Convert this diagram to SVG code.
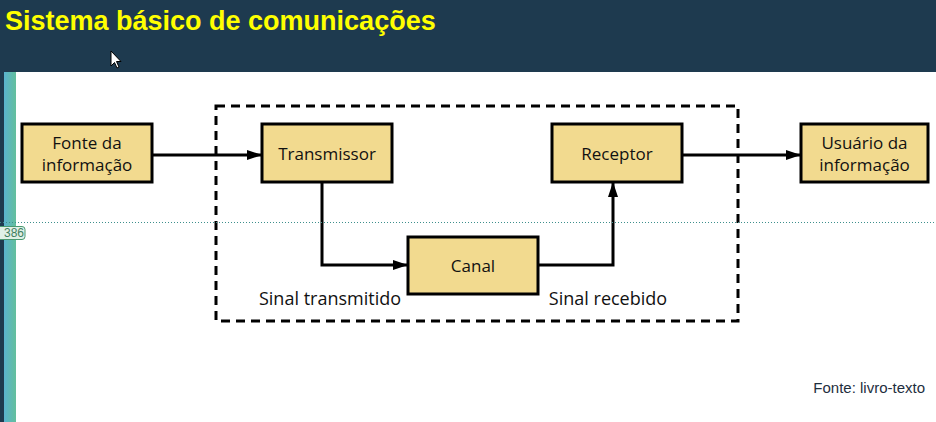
<svg xmlns="http://www.w3.org/2000/svg" width="936" height="422" viewBox="0 0 936 422">
<defs>
<linearGradient id="bar" x1="0" y1="0" x2="1" y2="0">
<stop offset="0" stop-color="#5ab3cf"/>
<stop offset="1" stop-color="#63bf9c"/>
</linearGradient>
<marker id="ah" viewBox="0 0 15 10" refX="15" refY="5" markerWidth="15" markerHeight="10" markerUnits="userSpaceOnUse" orient="auto">
<path d="M0,0 L15,5 L0,10 Z" fill="#000"/>
</marker>
<style>
.box{fill:#f2da8f;stroke:#000;stroke-width:3}
.lbl{font-family:"Open Sans","Noto Sans","DejaVu Sans",sans-serif;font-size:17px;fill:#111;text-anchor:middle}
.sig{font-family:"Open Sans","Noto Sans","DejaVu Sans",sans-serif;font-size:18px;fill:#111;text-anchor:middle}
.conn{fill:none;stroke:#000;stroke-width:3;marker-end:url(#ah)}
</style>
</defs>
<rect x="0" y="0" width="936" height="422" fill="#ffffff"/>
<rect x="0" y="0" width="936" height="72" fill="#1e3a4f"/>
<rect x="0" y="72" width="4" height="350" fill="#1e3a4f"/>
<rect x="4" y="72" width="12" height="350" fill="url(#bar)"/>
<text x="5" y="30" font-family="'Liberation Sans',Arial,sans-serif" font-size="27" font-weight="bold" fill="#ffff00">Sistema básico de comunicações</text>
<path d="M111,51 L111,66 L114.5,62.5 L117,68 L119,67 L116.5,61.5 L121,61.5 Z" fill="#fff" stroke="#000" stroke-width="1"/>

<rect x="216" y="106" width="522" height="215" fill="none" stroke="#000" stroke-width="3" stroke-dasharray="9,6"/>

<g id="connectors">
<path class="conn" d="M152,155 L262,155"/>
<path class="conn" d="M322,182 L322,265 L408,265"/>
<path class="conn" d="M538,265 L613,265 L613,182"/>
<path class="conn" d="M682,155 L801,155"/>
</g>

<g id="fonte">
<rect class="box" x="22" y="124" width="130" height="58"/>
<text class="lbl" x="87" y="149">Fonte da</text>
<text class="lbl" x="87" y="171">informação</text>
</g>
<g id="transmissor">
<rect class="box" x="262" y="124" width="130" height="58"/>
<text class="lbl" x="327" y="160">Transmissor</text>
</g>
<g id="receptor">
<rect class="box" x="552" y="124" width="130" height="58"/>
<text class="lbl" x="617" y="160">Receptor</text>
</g>
<g id="usuario">
<rect class="box" x="801" y="124" width="127" height="58"/>
<text class="lbl" x="864.5" y="149">Usuário da</text>
<text class="lbl" x="864.5" y="171">informação</text>
</g>
<g id="canal">
<rect class="box" x="408" y="237" width="130" height="57"/>
<text class="lbl" x="473" y="272">Canal</text>
</g>
<text class="sig" x="330" y="305">Sinal transmitido</text>
<text class="sig" x="608" y="305">Sinal recebido</text>

<text x="925" y="393" text-anchor="end" font-family="'Liberation Sans',Arial,sans-serif" font-size="15" fill="#1e2e3e">Fonte: livro-texto</text>

<line x1="0" y1="222.5" x2="936" y2="222.5" stroke="#3d8f8c" stroke-width="1" stroke-dasharray="1,2"/>
<rect x="-4" y="226.5" width="29" height="13" rx="3" fill="#dff0e6" stroke="#4a9a70" stroke-width="1"/>
<text x="4" y="237" font-family="'Liberation Sans',Arial,sans-serif" font-size="12" fill="#3f7f5f">386</text>
</svg>
